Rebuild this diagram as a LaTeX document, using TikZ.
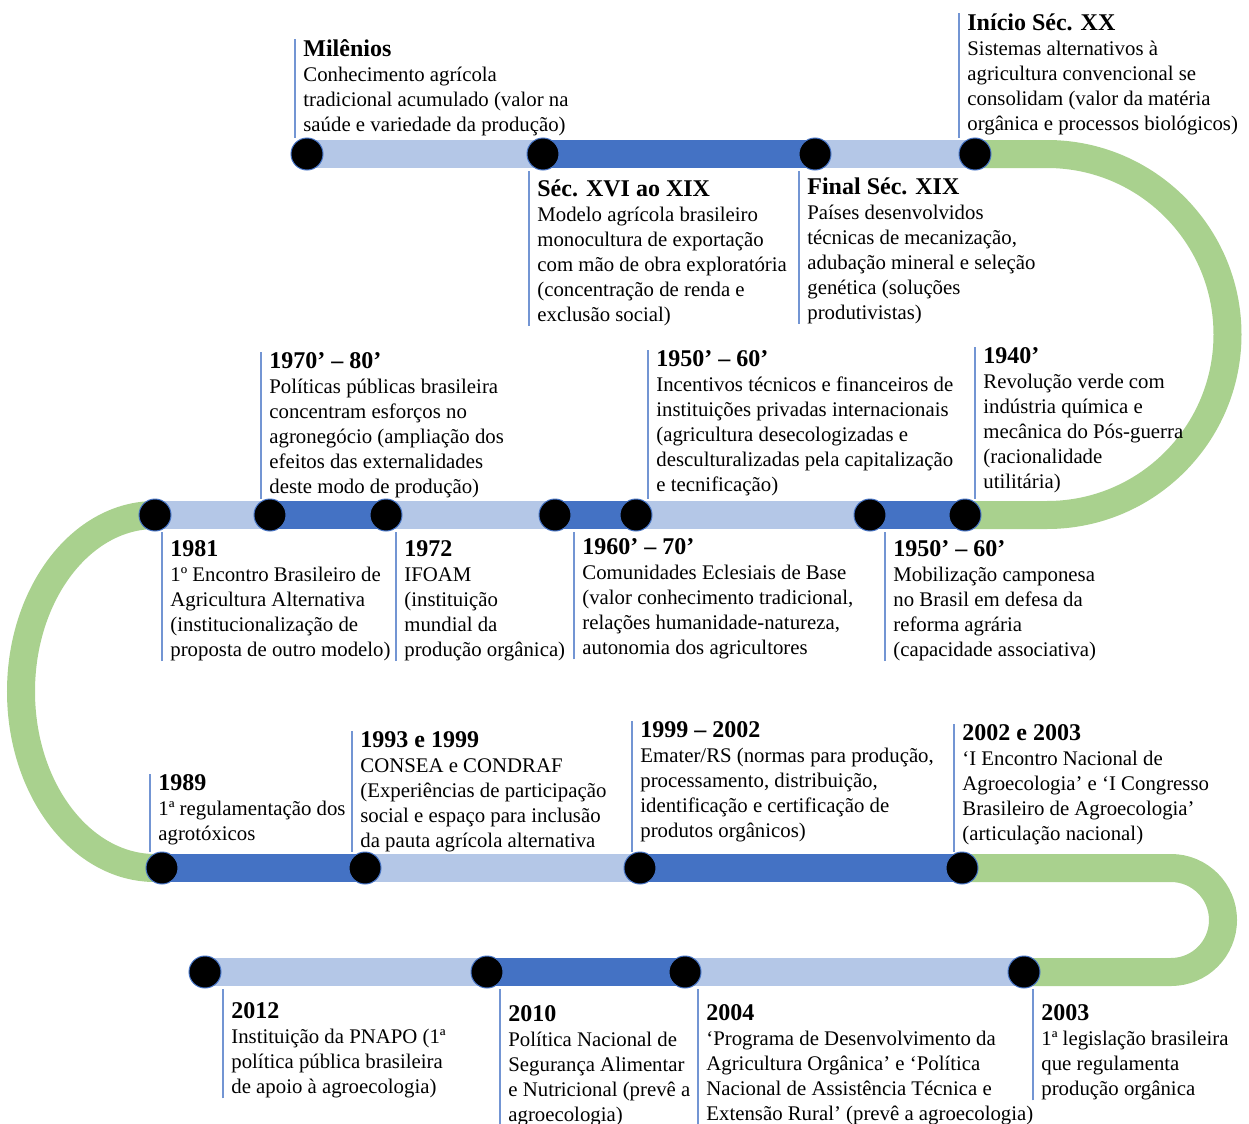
\documentclass[tikz,border=0pt]{standalone}
\usepackage{fontspec}
\setmainfont{Liberation Serif}
\usetikzlibrary{backgrounds}
\definecolor{lightbar}{HTML}{B4C7E7}
\definecolor{darkbar}{HTML}{4472C4}
\definecolor{loopgreen}{HTML}{A9D18E}
\newcommand{\evhead}[1]{{\fontsize{12}{14}\selectfont\bfseries #1}}
\begin{document}
\begin{tikzpicture}[x=0.5pt,y=-0.5pt,font=\fontsize{10.4}{12.5}\selectfont,
  dot/.style={circle,fill=black,draw=darkbar,line width=0.5pt,minimum size=16pt,inner sep=0pt},
  event/.style={anchor=north west,align=left,inner xsep=4pt,inner ysep=0pt},
  stemline/.style={draw=darkbar!75,line width=0.6pt},
  seglite/.style={lightbar,line width=14pt},
  segdark/.style={darkbar,line width=14pt},
  seggreen/.style={loopgreen,line width=14pt}]
\useasboundingbox (0,0) rectangle (1249,1124);
% dots of the four rows
\node[dot] (a1) at (307,154) {};
\node[dot] (a2) at (543,154) {};
\node[dot] (a3) at (815,154) {};
\node[dot] (a4) at (975,154) {};
\node[dot] (b1) at (155,515) {};
\node[dot] (b2) at (270,515) {};
\node[dot] (b3) at (386,515) {};
\node[dot] (b4) at (555,515) {};
\node[dot] (b5) at (636,515) {};
\node[dot] (b6) at (870,515) {};
\node[dot] (b7) at (965,515) {};
\node[dot] (c1) at (162,868) {};
\node[dot] (c2) at (365,868) {};
\node[dot] (c3) at (640,868) {};
\node[dot] (c4) at (962,868) {};
\node[dot] (d1) at (205,972) {};
\node[dot] (d2) at (487,972) {};
\node[dot] (d3) at (685,972) {};
\node[dot] (d4) at (1024,972) {};
% the band
\begin{scope}[on background layer]
\draw[seglite](a1.center)--(a2.center);
\draw[segdark](a2.center)--(a3.center);
\draw[seglite](a3.center)--(a4.center);
\draw[seggreen](a4.center)--++(72,0)arc[start angle=-90,end angle=90,radius=180.5]--(b7.center);
\draw[segdark](b7.center)--(b6.center);
\draw[seglite](b6.center)--(b5.center);
\draw[segdark](b5.center)--(b4.center);
\draw[seglite](b4.center)--(b3.center);
\draw[segdark](b3.center)--(b2.center);
\draw[seglite](b2.center)--(b1.center);
\draw[seggreen](b1.center)arc[start angle=270,end angle=90,x radius=134,y radius=176.5]--(c1.center);
\draw[segdark](c1.center)--(c2.center);
\draw[seglite](c2.center)--(c3.center);
\draw[segdark](c3.center)--(c4.center);
\draw[seggreen](c4.center)--(1171,868)arc[start angle=-90,end angle=90,radius=52]--(d4.center);
\draw[seglite](d4.center)--(d3.center);
\draw[segdark](d3.center)--(d2.center);
\draw[seglite](d2.center)--(d1.center);
\end{scope}
% row 1
\node[event] (milenios) at (295,39) {\evhead{Milênios}\\Conhecimento agrícola\\tradicional acumulado (valor na\\saúde e variedade da produção)};
\draw[stemline](milenios.north west)--(milenios.north west |- a1.north);
\node[event] (inicioxx) at (959,13) {\evhead{Início Séc. XX}\\Sistemas alternativos à\\agricultura convencional se\\consolidam (valor da matéria\\orgânica e processos biológicos)};
\draw[stemline](inicioxx.north west)--(inicioxx.north west |- a4.north);
\node[event] (secxvi) at (529,179) {\evhead{Séc. XVI ao XIX}\\Modelo agrícola brasileiro\\monocultura de exportação\\com mão de obra exploratória\\(concentração de renda e\\exclusão social)};
\draw[stemline](secxvi.south west)--(secxvi.south west |- a2.south);
\node[event] (finalxix) at (799,177) {\evhead{Final Séc. XIX}\\Países desenvolvidos\\técnicas de mecanização,\\adubação mineral e seleção\\genética (soluções\\produtivistas)};
\draw[stemline](finalxix.south west)--(finalxix.south west |- a3.south);
% row 2
\node[event] (e1970) at (261,352) {\evhead{1970’ – 80’}\\Políticas públicas brasileira\\concentram esforços no\\agronegócio (ampliação dos\\efeitos das externalidades\\deste modo de produção)};
\draw[stemline](e1970.north west)--(e1970.north west |- b2.north);
\node[event] (e1950a) at (648,350) {\evhead{1950’ – 60’}\\Incentivos técnicos e financeiros de\\instituições privadas internacionais\\(agricultura desecologizadas e\\desculturalizadas pela capitalização\\e tecnificação)};
\draw[stemline](e1950a.north west)--(e1950a.north west |- b5.north);
\node[event] (e1940) at (975,347) {\evhead{1940’}\\Revolução verde com\\indústria química e\\mecânica do Pós-guerra\\(racionalidade\\utilitária)};
\draw[stemline](e1940.north west)--(e1940.north west |- b7.north);
\node[event] (e1981) at (162,540) {\evhead{1981}\\1º Encontro Brasileiro de\\Agricultura Alternativa\\(institucionalização de\\proposta de outro modelo)};
\draw[stemline](e1981.south west)--(e1981.south west |- b1.south);
\node[event] (e1972) at (396,540) {\evhead{1972}\\IFOAM\\(instituição\\mundial da\\produção orgânica)};
\draw[stemline](e1972.south west)--(e1972.south west |- b3.south);
\node[event] (e1960) at (574,538) {\evhead{1960’ – 70’}\\Comunidades Eclesiais de Base\\(valor conhecimento tradicional,\\relações humanidade-natureza,\\autonomia dos agricultores};
\draw[stemline](e1960.south west)--(e1960.south west |- b4.south);
\node[event] (e1950b) at (885,540) {\evhead{1950’ – 60’}\\Mobilização camponesa\\no Brasil em defesa da\\reforma agrária\\(capacidade associativa)};
\draw[stemline](e1950b.south west)--(e1950b.south west |- b6.south);
% row 3
\node[event] (e1989) at (150,774) {\evhead{1989}\\1ª regulamentação dos\\agrotóxicos};
\draw[stemline](e1989.north west)--(e1989.north west |- c1.north);
\node[event] (e1993) at (352,731) {\evhead{1993 e 1999}\\CONSEA e CONDRAF\\(Experiências de participação\\social e espaço para inclusão\\da pauta agrícola alternativa};
\draw[stemline](e1993.north west)--(e1993.north west |- c2.north);
\node[event] (e1999) at (632,721) {\evhead{1999 – 2002}\\Emater/RS (normas para produção,\\processamento, distribuição,\\identificação e certificação de\\produtos orgânicos)};
\draw[stemline](e1999.north west)--(e1999.north west |- c3.north);
\node[event] (e2002) at (954,724) {\evhead{2002 e 2003}\\‘I Encontro Nacional de\\Agroecologia’ e ‘I Congresso\\Brasileiro de Agroecologia’\\(articulação nacional)};
\draw[stemline](e2002.north west)--(e2002.north west |- c4.north);
% row 4
\node[event] (e2012) at (223,1002) {\evhead{2012}\\Instituição da PNAPO (1ª\\política pública brasileira\\de apoio à agroecologia)};
\draw[stemline](e2012.south west)--(e2012.south west |- d1.south);
\node[event] (e2010) at (500,1005) {\evhead{2010}\\Política Nacional de\\Segurança Alimentar\\e Nutricional (prevê a\\agroecologia)};
\draw[stemline](e2010.south west)--(e2010.south west |- d2.south);
\node[event] (e2004) at (698,1004) {\evhead{2004}\\‘Programa de Desenvolvimento da\\Agricultura Orgânica’ e ‘Política\\Nacional de Assistência Técnica e\\Extensão Rural’ (prevê a agroecologia)};
\draw[stemline](e2004.south west)--(e2004.south west |- d3.south);
\node[event] (e2003) at (1033,1004) {\evhead{2003}\\1ª legislação brasileira\\que regulamenta\\produção orgânica};
\draw[stemline](e2003.south west)--(e2003.south west |- d4.south);
\end{tikzpicture}
\end{document}
